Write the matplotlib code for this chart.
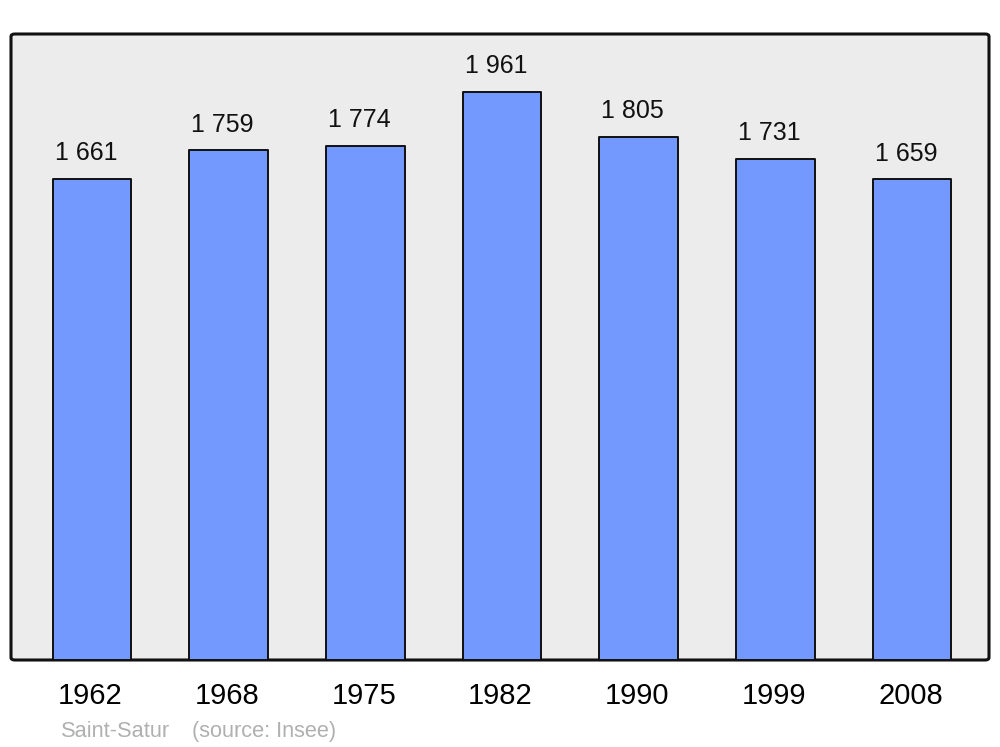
import matplotlib
matplotlib.use("Agg")
import matplotlib.pyplot as plt
from matplotlib.patches import FancyBboxPatch
from matplotlib.transforms import ScaledTranslation

years = ["1962", "1968", "1975", "1982", "1990", "1999", "2008"]
population = [1661, 1759, 1774, 1961, 1805, 1731, 1659]
value_labels = ["1 661", "1 759", "1 774", "1 961", "1 805", "1 731", "1 659"]
commune = "Saint-Satur"
source = "(source: Insee)"

plt.rcParams['font.family'] = ['Liberation Sans', 'DejaVu Sans']

fig = plt.figure(figsize=(10, 7.47), dpi=100)
ax = fig.add_axes([0.011, (747 - 660) / 747, 0.978, 626 / 747])
ax.set_facecolor('none')

# rounded background frame
frame = FancyBboxPatch((0, 0), 1, 1, boxstyle="round,pad=0,rounding_size=0.004",
                       transform=ax.transAxes, facecolor='#ececec', edgecolor='#111111',
                       linewidth=2.2, zorder=0, clip_on=False)
ax.add_patch(frame)

x = list(range(len(years)))
bars = ax.bar(x, population, width=0.575, color='#7399ff', edgecolor='#111111',
              linewidth=1.4, zorder=2)
for b in bars:
    b.set_joinstyle('round')

for xi, v, lab in zip(x, population, value_labels):
    ax.annotate(lab, (xi, v), xytext=(-4.5, 18.5), textcoords='offset points',
                ha='center', va='center', fontsize=18, color='#111111')

ax.set_xlim(-0.593, 6.563)
ax.set_ylim(0, 2161)
ax.set_xticks(x)
ax.set_xticklabels(years, fontsize=21, color='#000000')
ax.tick_params(axis='x', length=0, pad=16)
offset = ScaledTranslation(-1.5 / 100, 0, fig.dpi_scale_trans)
for lbl in ax.get_xticklabels():
    lbl.set_transform(lbl.get_transform() + offset)
ax.set_yticks([])
for s in ax.spines.values():
    s.set_visible(False)

fig.text(0.061, 1 - 731.5 / 747, commune, fontsize=15.7, color='#b0b0b0', ha='left', va='center')
fig.text(0.192, 1 - 731.5 / 747, source, fontsize=15.7, color='#b0b0b0', ha='left', va='center')

fig.savefig("out.png", dpi=100)
